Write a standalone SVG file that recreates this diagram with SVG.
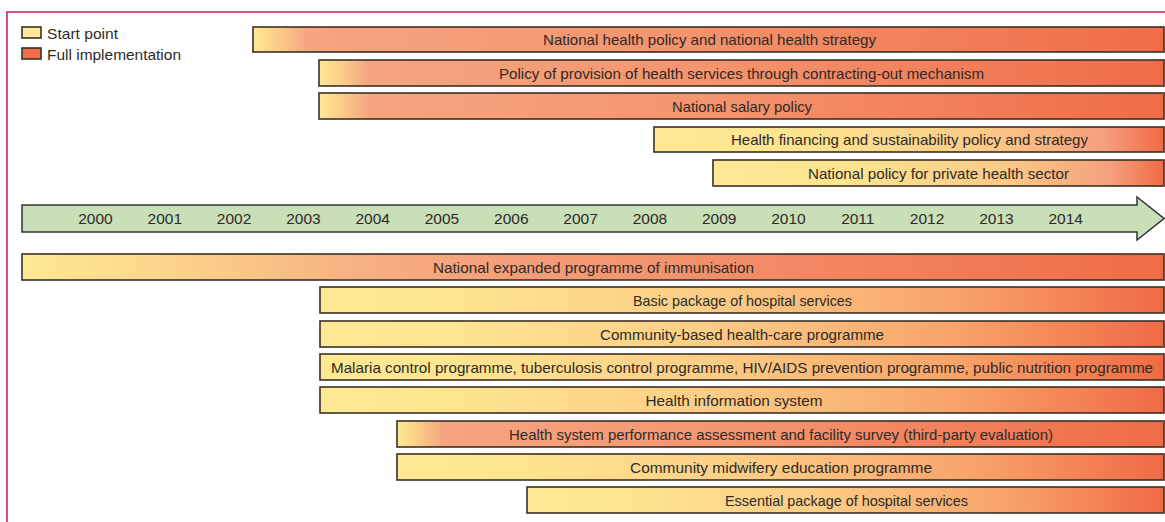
<svg xmlns="http://www.w3.org/2000/svg" width="1165" height="522" viewBox="0 0 1165 522">
<defs>
<style>
.bar{stroke:#3b3024;stroke-width:1.6}
.lbl{font-family:"Liberation Sans",Arial,sans-serif;font-size:15px;fill:#2e2a28;text-anchor:middle}
.yr{font-family:"Liberation Sans",Arial,sans-serif;font-size:15.5px;fill:#2e2a28;text-anchor:middle}
.leg{font-family:"Liberation Sans",Arial,sans-serif;font-size:15px;fill:#2e2a28}
</style>
<linearGradient id="gQuick" x1="0" y1="0" x2="1" y2="0">
<stop offset="0" stop-color="#fee994"/>
<stop offset="0.025" stop-color="#fbcf8a"/>
<stop offset="0.06" stop-color="#f5a57f"/>
<stop offset="0.45" stop-color="#f4956f"/>
<stop offset="1" stop-color="#f06c48"/>
</linearGradient>
<linearGradient id="gImm" x1="0" y1="0" x2="1" y2="0">
<stop offset="0" stop-color="#fee994"/>
<stop offset="0.12" stop-color="#fcd68c"/>
<stop offset="0.27" stop-color="#f7b582"/>
<stop offset="0.4" stop-color="#f4a17c"/>
<stop offset="1" stop-color="#f06c48"/>
</linearGradient>
<linearGradient id="gSlow" x1="0" y1="0" x2="1" y2="0">
<stop offset="0" stop-color="#fee994"/>
<stop offset="0.15" stop-color="#fee690"/>
<stop offset="0.45" stop-color="#fcce86"/>
<stop offset="0.75" stop-color="#f8a46a"/>
<stop offset="1" stop-color="#f06a46"/>
</linearGradient>
<linearGradient id="gLate" x1="0" y1="0" x2="1" y2="0">
<stop offset="0" stop-color="#fee994"/>
<stop offset="0.3" stop-color="#fde48f"/>
<stop offset="0.65" stop-color="#fbca86"/>
<stop offset="0.88" stop-color="#f5a07c"/>
<stop offset="1" stop-color="#f06a46"/>
</linearGradient>
</defs>
<rect width="1165" height="522" fill="#ffffff"/>
<path d="M7,522 V12 H1165" fill="none" stroke="#c8174a" stroke-width="1.5"/>

<g id="legend">
<rect x="22" y="27" width="19" height="11" fill="#fee994" class="bar"/>
<text x="47" y="38.5" class="leg" textLength="71" lengthAdjust="spacingAndGlyphs">Start point</text>
<rect x="22" y="48" width="19" height="11" fill="#f26d4b" class="bar"/>
<text x="47" y="59.5" class="leg" textLength="134" lengthAdjust="spacingAndGlyphs">Full implementation</text>
</g>

<g id="connectors"></g>

<g id="bar1"><rect x="253" y="27" width="911" height="25" fill="url(#gQuick)" class="bar"/><text x="709.5" y="45" class="lbl" textLength="333" lengthAdjust="spacingAndGlyphs">National health policy and national health strategy</text></g>
<g id="bar2"><rect x="319" y="60" width="845" height="26" fill="url(#gQuick)" class="bar"/><text x="741.5" y="78.5" class="lbl" textLength="485" lengthAdjust="spacingAndGlyphs">Policy of provision of health services through contracting-out mechanism</text></g>
<g id="bar3"><rect x="319" y="93" width="845" height="26" fill="url(#gQuick)" class="bar"/><text x="742" y="111.5" class="lbl" textLength="140" lengthAdjust="spacingAndGlyphs">National salary policy</text></g>
<g id="bar4"><rect x="654" y="127" width="510" height="25" fill="url(#gLate)" class="bar"/><text x="909.5" y="145" class="lbl" textLength="357" lengthAdjust="spacingAndGlyphs">Health financing and sustainability policy and strategy</text></g>
<g id="bar5"><rect x="713" y="160" width="451" height="26" fill="url(#gLate)" class="bar"/><text x="938.5" y="178.5" class="lbl" textLength="261" lengthAdjust="spacingAndGlyphs">National policy for private health sector</text></g>

<g id="timeline">
<path d="M22,205 H1137 V197 L1164,218.5 L1137,240 V232 H22 Z" fill="#c9dfb8" stroke="#333" stroke-width="1.5"/>
<text x="95.5" y="224" class="yr">2000</text>
<text x="164.8" y="224" class="yr">2001</text>
<text x="234.1" y="224" class="yr">2002</text>
<text x="303.4" y="224" class="yr">2003</text>
<text x="372.7" y="224" class="yr">2004</text>
<text x="442" y="224" class="yr">2005</text>
<text x="511.3" y="224" class="yr">2006</text>
<text x="580.6" y="224" class="yr">2007</text>
<text x="649.9" y="224" class="yr">2008</text>
<text x="719.2" y="224" class="yr">2009</text>
<text x="788.5" y="224" class="yr">2010</text>
<text x="857.8" y="224" class="yr">2011</text>
<text x="927.1" y="224" class="yr">2012</text>
<text x="996.4" y="224" class="yr">2013</text>
<text x="1065.7" y="224" class="yr">2014</text>
</g>

<g id="bar6"><rect x="22" y="254" width="1142" height="26" fill="url(#gImm)" class="bar"/><text x="593.5" y="272.5" class="lbl" textLength="321" lengthAdjust="spacingAndGlyphs">National expanded programme of immunisation</text></g>
<g id="bar7"><rect x="320" y="287" width="844" height="26" fill="url(#gSlow)" class="bar"/><text x="742.5" y="305.5" class="lbl" textLength="219" lengthAdjust="spacingAndGlyphs">Basic package of hospital services</text></g>
<g id="bar8"><rect x="320" y="321" width="844" height="26" fill="url(#gSlow)" class="bar"/><text x="742" y="339.5" class="lbl" textLength="284" lengthAdjust="spacingAndGlyphs">Community-based health-care programme</text></g>
<g id="bar9"><rect x="320" y="354" width="844" height="26" fill="url(#gSlow)" class="bar"/><text x="742" y="372.5" class="lbl" textLength="822" lengthAdjust="spacingAndGlyphs">Malaria control programme, tuberculosis control programme, HIV/AIDS prevention programme, public nutrition programme</text></g>
<g id="bar10"><rect x="320" y="387" width="844" height="26" fill="url(#gSlow)" class="bar"/><text x="734" y="405.5" class="lbl" textLength="177" lengthAdjust="spacingAndGlyphs">Health information system</text></g>
<g id="bar11"><rect x="397" y="421" width="767" height="26" fill="url(#gQuick)" class="bar"/><text x="781" y="439.5" class="lbl" textLength="544" lengthAdjust="spacingAndGlyphs">Health system performance assessment and facility survey (third-party evaluation)</text></g>
<g id="bar12"><rect x="397" y="454" width="767" height="26" fill="url(#gSlow)" class="bar"/><text x="781" y="472.5" class="lbl" textLength="302" lengthAdjust="spacingAndGlyphs">Community midwifery education programme</text></g>
<g id="bar13"><rect x="527" y="487" width="637" height="26" fill="url(#gSlow)" class="bar"/><text x="846.5" y="505.5" class="lbl" textLength="243" lengthAdjust="spacingAndGlyphs">Essential package of hospital services</text></g>
</svg>
